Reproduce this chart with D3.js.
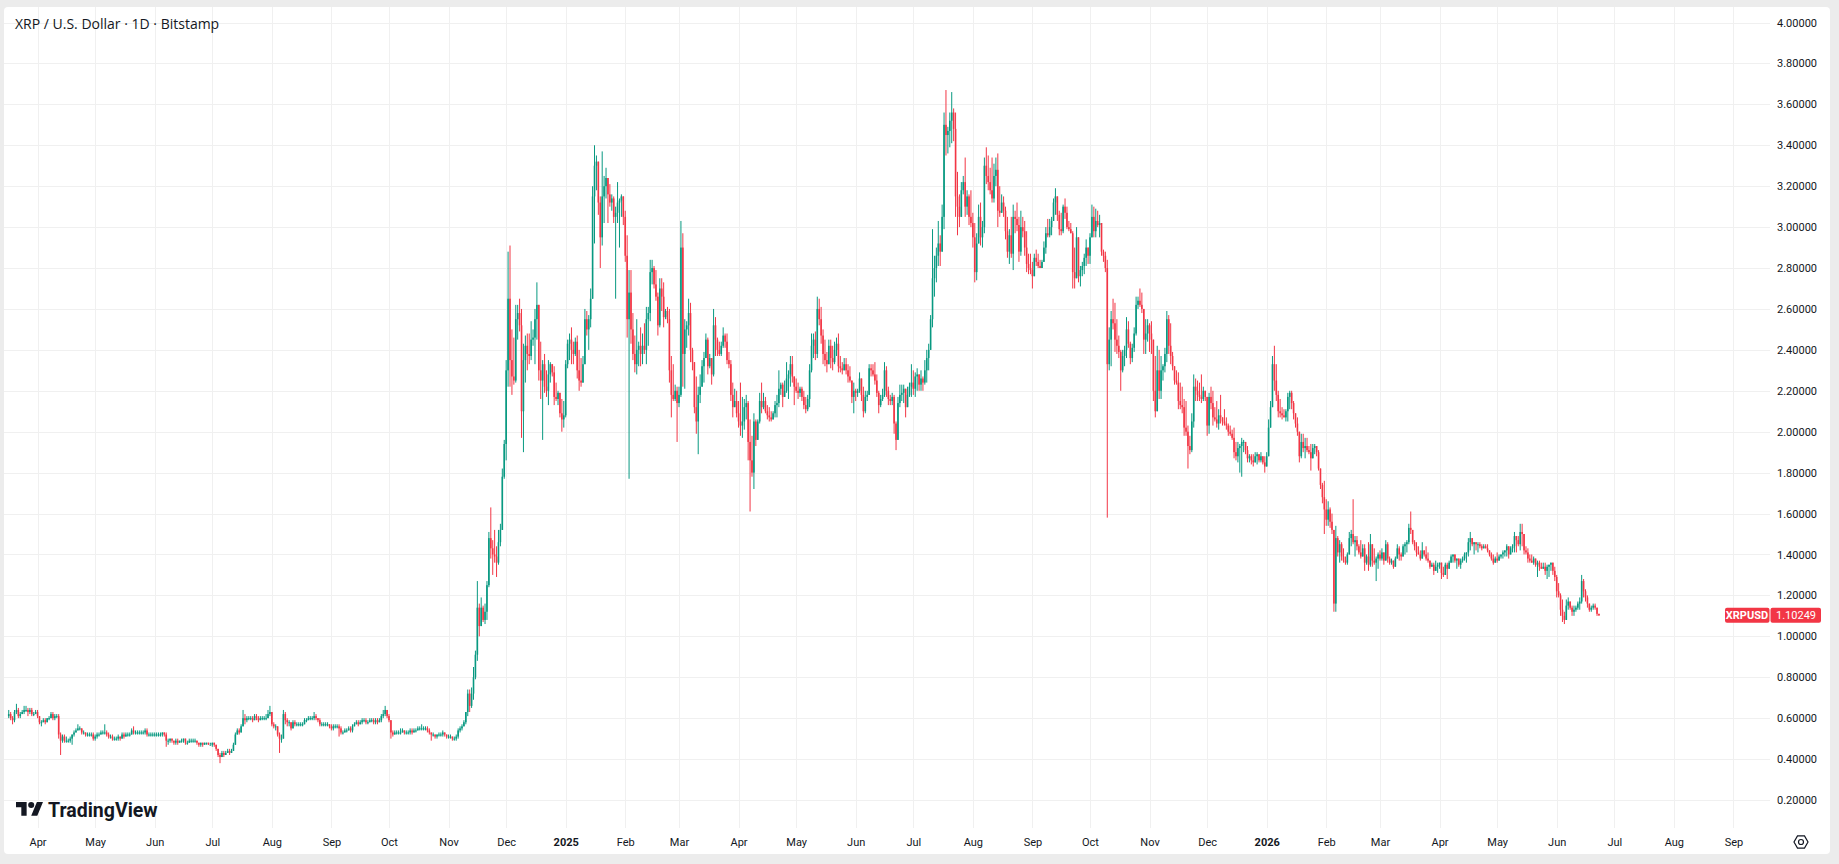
<!DOCTYPE html>
<html>
<head>
<meta charset="utf-8">
<script src="https://d3js.org/d3.v7.min.js"></script>
<style>
  body { margin: 0; background: #ececec; font-family: Roboto, "Liberation Sans", sans-serif; }
  .tick text { fill: #131722; }
</style>
</head>
<body>
<div id="chart"></div>
<script>
// daily candles, XRP/USD 1D Bitstamp, first candle 2024-03-17, open = previous close
const startDay = "2024-03-17";
const firstOpen = 0.61;

const close2024 = [
  .62,.60,.59,.63,.64,.61,.62,.63,.64,.64,.63,.64,.62,.62,.63,
  .61,.58,.58,.59,.58,.60,.60,.62,.60,.61, .61,.52,.49,.51,.49,.49,.49,.50,.52,.53, .54,.55,.55,.53,.53,.52,.52,.52,.52,.50,
  .51,.52,.52,.53,.53,.53,.52,.51,.51,.50, .50,.50,.51,.50,.52,.51,.52,.52,.52,.54, .53,.53,.53,.53,.53,.53,.54,.52,.52,.52, .52,
  .52,.52,.52,.52,.53,.52,.49,.49,.50,.49, .48,.49,.48,.49,.49,.50,.48,.48,.49,.49, .49,.49,.48,.47,.48,.47,.48,.48,.47,.47,
  .48,.47,.45,.42,.41,.43,.42,.43,.44,.43, .44,.47,.52,.54,.53,.56,.60,.59,.60,.60, .60,.59,.61,.60,.59,.60,.60,.60,.60,.62, .63,
  .57,.56,.56,.52,.50,.50,.62,.59,.58,.58, .55,.58,.57,.57,.57,.57,.57,.59,.59,.60, .60,.60,.61,.60,.59,.57,.57,.57,.57,.57, .56,
  .55,.56,.56,.56,.55,.53,.53,.54,.54,.55, .54,.56,.57,.58,.57,.58,.59,.59,.58,.58, .59,.59,.58,.59,.58,.59,.61,.62,.64,.61,
  .59,.53,.52,.53,.53,.53,.53,.54,.53,.53, .53,.54,.53,.54,.54,.55,.55,.55,.55,.55, .54,.53,.52,.52,.51,.52,.52,.52,.53,.52, .51,
  .51,.51,.50,.50,.51,.54,.55,.56,.58,.63, .72,.66,.72,.80,.91,1.14,1.05,1.14,1.08,1.12, 1.25,1.48,1.43,1.40,1.39,1.36,1.46,1.52,1.78,1.94,
  2.30,2.65,2.35,2.27,2.25,2.55,2.58,2.52,2.10,2.35, 2.42,2.38,2.37,2.45,2.46,2.55,2.62,2.30,2.25,2.33, 2.22,2.20,2.28,2.33,2.29,2.17,2.16,2.19,2.09,2.06, 2.08
];
const high2024 = [
  .64,.63,.61,.64,.67,.65,.63,.64,.66,.66,.65,.65,.65,.63,.64,
  .64,.61,.59,.60,.60,.60,.61,.63,.63,.62, .62,.62,.53,.52,.52,.51,.50,.51,.52,.54, .55,.57,.56,.55,.54,.53,.53,.53,.53,.53,
  .52,.53,.53,.54,.54,.57,.54,.53,.52,.52, .51,.51,.52,.51,.53,.53,.53,.53,.53,.55, .56,.54,.54,.54,.54,.54,.55,.55,.53,.53, .53,
  .53,.53,.53,.53,.53,.53,.53,.50,.50,.50, .49,.50,.50,.49,.50,.50,.50,.49,.50,.50, .50,.50,.49,.48,.48,.48,.48,.48,.48,.48,
  .48,.48,.47,.45,.43,.44,.44,.44,.45,.45, .45,.48,.53,.55,.55,.57,.64,.62,.61,.61, .61,.61,.62,.62,.61,.61,.61,.61,.62,.64, .66,
  .63,.58,.57,.56,.53,.52,.64,.63,.60,.59, .58,.59,.59,.58,.58,.58,.58,.60,.60,.61, .61,.61,.63,.62,.60,.60,.58,.58,.58,.58, .57,
  .57,.57,.57,.57,.57,.56,.54,.55,.55,.56, .56,.57,.58,.59,.59,.59,.60,.60,.60,.59, .60,.60,.60,.60,.60,.60,.62,.64,.66,.64,
  .62,.59,.54,.54,.54,.54,.55,.55,.54,.54, .54,.55,.55,.55,.55,.56,.56,.57,.56,.56, .56,.55,.53,.53,.52,.52,.53,.53,.54,.53, .52,
  .52,.52,.51,.51,.52,.55,.56,.57,.59,.63, .74,.74,.75,.85,.93,1.27,1.16,1.19,1.15,1.16, 1.27,1.51,1.63,1.47,1.52,1.44,1.52,1.55,1.82,1.96,
  2.35,2.88,2.91,2.50,2.46,2.62,2.62,2.65,2.60,2.43, 2.47,2.48,2.48,2.54,2.50,2.60,2.73,2.62,2.44,2.35, 2.38,2.30,2.35,2.34,2.33,2.32,2.24,2.20,2.19,2.16, 2.15
];
const low2024 = [
  .60,.59,.57,.58,.62,.60,.60,.62,.62,.63,.61,.62,.61,.61,.62,
  .60,.57,.56,.58,.57,.58,.59,.60,.59,.59, .60,.50,.42,.48,.48,.48,.48,.48,.47,.51, .53,.54,.54,.52,.52,.51,.51,.51,.51,.49,
  .49,.50,.51,.52,.52,.52,.51,.50,.50,.49, .49,.49,.49,.49,.50,.50,.51,.51,.51,.52, .52,.52,.52,.52,.52,.52,.52,.51,.51,.51, .51,
  .51,.51,.51,.51,.51,.51,.46,.47,.48,.48, .47,.47,.47,.48,.48,.48,.47,.47,.48,.48, .48,.48,.47,.46,.46,.46,.47,.47,.47,.47,
  .46,.46,.44,.41,.38,.41,.41,.42,.43,.42, .43,.44,.47,.52,.52,.53,.56,.57,.58,.59, .59,.58,.59,.59,.58,.59,.59,.59,.59,.60, .61,
  .56,.55,.54,.51,.43,.48,.50,.57,.56,.56, .54,.55,.56,.56,.56,.56,.56,.57,.58,.59, .59,.59,.59,.59,.58,.56,.56,.56,.56,.56, .55,
  .54,.54,.55,.55,.51,.52,.52,.53,.53,.54, .53,.53,.56,.57,.56,.57,.57,.58,.57,.57, .58,.58,.57,.57,.57,.58,.58,.60,.61,.60,
  .58,.50,.51,.52,.52,.52,.52,.53,.52,.52, .52,.52,.52,.53,.53,.54,.54,.54,.54,.54, .53,.52,.49,.51,.50,.50,.51,.51,.51,.51, .50,
  .50,.50,.49,.49,.49,.50,.53,.54,.56,.57, .61,.63,.65,.69,.79,.88,1.00,1.05,1.07,1.06, 1.08,1.24,1.38,1.30,1.36,1.29,1.35,1.44,1.52,1.77,
  1.86,2.22,2.22,2.18,2.23,2.24,2.45,2.49,1.97,1.90, 2.24,2.30,2.33,2.35,2.42,2.33,2.45,2.25,2.16,1.96, 2.19,2.17,2.13,2.24,2.27,2.13,2.15,2.13,2.07,2.00, 2.02
];

const close2025 = [
  2.33,2.43,2.45,2.40,2.38,2.44,2.30,2.25,2.24,2.33, 2.55,2.50,2.55,2.65,3.15,3.30,3.32,3.12,2.95,3.15, 3.20,3.24,3.16,3.12,3.14,3.05,3.07,3.12,3.13,3.15, 3.05,
  2.86,2.55,2.68,2.50,2.38,2.33,2.40,2.42,2.38,2.42, 2.40,2.55,2.58,2.78,2.80,2.72,2.66,2.52,2.70,2.66, 2.56,2.59,2.55,2.30,2.18,2.16,2.20,2.14,
  2.18,2.90,2.38,2.50,2.52,2.58,2.40,2.34,2.12,2.05, 2.18,2.22,2.32,2.36,2.45,2.32,2.36,2.28,2.52,2.45, 2.40,2.38,2.42,2.47,2.44,2.35,2.33,2.18,2.12,2.15, 2.09,
  2.05,2.03,2.05,2.12,2.14,1.95,1.86,1.80,2.05,1.96, 2.05,2.15,2.12,2.15,2.10,2.08,2.07,2.06,2.09,2.13, 2.14,2.21,2.23,2.17,2.20,2.26,2.28,2.33,2.27,2.22,
  2.20,2.19,2.21,2.17,2.13,2.11,2.16,2.30,2.42,2.45, 2.38,2.60,2.55,2.47,2.38,2.35,2.33,2.42,2.36,2.34, 2.40,2.43,2.32,2.31,2.30,2.33,2.30,2.27,2.25,2.17, 2.20,
  2.19,2.20,2.26,2.18,2.10,2.17,2.18,2.31,2.30,2.28, 2.25,2.19,2.13,2.16,2.18,2.30,2.20,2.16,2.15,2.17, 2.04,1.96,2.14,2.18,2.19,2.21,2.12,2.18,2.22,2.24,
  2.21,2.27,2.28,2.23,2.26,2.24,2.30,2.36,2.40,2.55, 2.75,2.80,2.86,2.92,2.88,3.05,3.50,3.45,3.47,3.52, 3.56,3.48,3.15,3.10,3.05,3.18,3.22,3.10,3.15,3.05, 3.02,
  2.95,2.78,2.92,3.05,2.95,3.00,3.30,3.25,3.22,3.18, 3.14,3.25,3.28,3.08,3.07,3.12,3.08,2.98,2.88,2.96, 2.87,3.05,3.04,3.01,2.88,3.00,2.98,2.90,2.82,2.80, 2.79,
  2.76,2.85,2.83,2.81,2.80,2.83,2.90,2.97,2.96,3.00, 3.03,3.12,3.15,3.06,2.99,2.98,3.10,3.07,3.00,2.99, 2.97,2.78,2.75,2.95,2.76,2.79,2.81,2.85,2.90,2.86,
  2.95,3.05,2.98,3.03,3.01,3.02,2.88,2.86,2.80,2.33, 2.45,2.55,2.53,2.45,2.42,2.39,2.30,2.37,2.40,2.50, 2.43,2.36,2.41,2.48,2.62,2.64,2.62,2.60,2.45,2.48, 2.52,
  2.48,2.45,2.20,2.10,2.30,2.20,2.30,2.32,2.38,2.55, 2.42,2.37,2.32,2.25,2.24,2.15,2.13,2.12,2.02,2.00, 1.93,1.91,2.05,2.22,2.20,2.18,2.17,2.16,2.20,2.17,
  2.03,2.17,2.14,2.07,2.06,2.04,2.08,2.07,2.05,2.04, 2.03,2.00,1.99,1.97,1.90,1.88,1.92,1.93,1.95,1.95, 1.91,1.87,1.88,1.86,1.85,1.88,1.89,1.86,1.88,1.85, 1.83
];
const high2025 = [
  2.35,2.45,2.48,2.51,2.44,2.46,2.47,2.40,2.36,2.37, 2.60,2.59,2.57,2.70,3.20,3.40,3.35,3.31,3.15,3.37, 3.25,3.29,3.21,3.21,3.16,3.15,3.10,3.22,3.14,3.16, 3.14,
  3.08,2.96,2.79,2.79,2.58,2.47,2.55,2.44,2.51,2.48, 2.53,2.61,2.61,2.84,2.84,2.81,2.79,2.68,2.75,2.75, 2.73,2.60,2.61,2.60,2.37,2.33,2.23,2.22,
  2.22,3.03,2.97,2.55,2.54,2.65,2.63,2.41,2.34,2.27, 2.22,2.28,2.35,2.39,2.48,2.46,2.38,2.36,2.60,2.56, 2.46,2.44,2.44,2.51,2.48,2.48,2.39,2.35,2.24,2.21, 2.20,
  2.15,2.24,2.17,2.16,2.18,2.15,2.06,1.98,2.09,2.06, 2.06,2.19,2.24,2.19,2.17,2.13,2.12,2.10,2.10,2.15, 2.18,2.30,2.24,2.24,2.25,2.34,2.30,2.37,2.37,2.26,
  2.26,2.24,2.22,2.22,2.20,2.17,2.18,2.33,2.48,2.48, 2.49,2.66,2.65,2.61,2.50,2.45,2.39,2.45,2.45,2.42, 2.44,2.46,2.48,2.37,2.34,2.36,2.36,2.33,2.32,2.25, 2.24,
  2.21,2.21,2.29,2.26,2.22,2.20,2.20,2.33,2.33,2.33, 2.34,2.28,2.20,2.18,2.21,2.34,2.32,2.22,2.18,2.19, 2.18,2.05,2.17,2.23,2.23,2.23,2.19,2.22,2.24,2.33,
  2.30,2.29,2.31,2.28,2.30,2.27,2.35,2.40,2.43,2.57, 2.99,2.86,2.90,3.03,2.96,3.11,3.56,3.67,3.49,3.56, 3.66,3.58,3.56,3.27,3.16,3.22,3.25,3.34,3.18,3.16, 3.18,
  3.07,3.02,2.97,3.11,3.12,3.03,3.34,3.39,3.35,3.29, 3.34,3.31,3.34,3.36,3.20,3.16,3.15,3.10,3.05,2.99, 3.05,3.11,3.08,3.12,3.05,3.08,3.05,3.03,2.98,2.87, 2.87,
  2.83,2.87,2.89,2.87,2.84,2.84,2.93,3.00,3.04,3.04, 3.05,3.14,3.19,3.14,3.08,3.07,3.11,3.14,3.10,3.03, 3.02,2.98,2.90,3.00,2.95,2.81,2.83,2.87,2.94,2.90,
  2.97,3.11,3.10,3.09,3.08,3.06,3.02,2.89,2.88,2.84, 2.51,2.59,2.65,2.63,2.55,2.47,2.40,2.40,2.42,2.56, 2.54,2.44,2.43,2.51,2.66,2.66,2.70,2.68,2.59,2.55, 2.55,
  2.53,2.54,2.45,2.37,2.42,2.40,2.37,2.33,2.41,2.59, 2.57,2.53,2.39,2.32,2.30,2.29,2.24,2.22,2.16,2.15, 2.03,1.98,2.09,2.28,2.26,2.25,2.24,2.28,2.22,2.20,
  2.17,2.19,2.22,2.20,2.12,2.15,2.11,2.18,2.07,2.11, 2.07,2.04,2.03,2.01,2.02,1.95,1.95,1.94,1.97,1.96, 1.95,1.93,1.89,1.89,1.89,1.90,1.90,1.89,1.90,1.87, 1.88
];
const low2025 = [
  2.07,2.31,2.35,2.33,2.33,2.37,2.26,2.20,2.22,2.25, 2.33,2.47,2.40,2.51,2.65,2.92,3.18,3.06,2.80,2.91, 3.02,3.14,3.02,3.10,3.08,3.02,2.65,3.02,2.90,3.05, 3.01,
  2.83,2.46,1.77,2.43,2.35,2.29,2.28,2.32,2.32,2.33, 2.38,2.33,2.42,2.54,2.72,2.70,2.64,2.47,2.51,2.59, 2.51,2.55,2.53,2.24,2.07,2.15,2.15,1.95,
  2.12,2.17,2.22,2.21,2.41,2.47,2.34,2.30,2.09,1.99, 1.89,2.14,2.22,2.24,2.36,2.28,2.31,2.23,2.27,2.37, 2.37,2.37,2.37,2.41,2.41,2.33,2.31,2.15,2.07,2.12, 2.07,
  2.02,1.98,1.97,2.01,2.06,1.86,1.61,1.78,1.72,1.93, 1.96,2.04,2.09,2.11,2.09,2.06,2.05,2.05,2.06,2.07, 2.07,2.12,2.18,2.12,2.17,2.19,2.16,2.22,2.24,2.13,
  2.19,2.16,2.17,2.15,2.11,2.09,2.10,2.12,2.29,2.36, 2.35,2.36,2.52,2.43,2.33,2.32,2.29,2.33,2.31,2.30, 2.33,2.37,2.29,2.29,2.28,2.30,2.28,2.24,2.24,2.14, 2.09,
  2.15,2.17,2.19,2.15,2.07,2.09,2.15,2.18,2.27,2.27, 2.23,2.17,2.09,2.12,2.15,2.17,2.17,2.13,2.13,2.13, 1.99,1.91,1.96,2.12,2.15,2.14,2.07,2.12,2.17,2.17,
  2.18,2.17,2.20,2.20,2.20,2.20,2.23,2.24,2.30,2.40, 2.51,2.66,2.73,2.81,2.81,2.88,2.99,3.35,3.36,3.39, 3.41,3.42,3.05,2.96,3.00,3.08,3.16,3.05,3.06,3.01, 3.00,
  2.90,2.73,2.74,2.92,2.91,2.90,2.97,3.21,3.18,3.16, 3.12,3.12,3.20,3.00,3.05,3.07,3.05,2.94,2.85,2.82, 2.85,2.79,2.97,2.98,2.83,2.86,2.95,2.86,2.78,2.77, 2.77,
  2.70,2.78,2.81,2.80,2.80,2.81,2.83,2.87,2.95,2.95, 2.96,3.03,3.06,3.03,2.96,2.96,2.97,3.04,2.99,2.98, 2.97,2.70,2.70,2.79,2.73,2.71,2.76,2.77,2.81,2.82,
  2.82,2.95,2.95,2.95,3.00,2.95,2.86,2.83,2.78,1.58, 2.30,2.32,2.50,2.39,2.38,2.36,2.20,2.29,2.32,2.36, 2.41,2.33,2.34,2.39,2.47,2.60,2.61,2.58,2.38,2.38, 2.44,
  2.39,2.38,2.15,2.07,2.11,2.16,2.16,2.25,2.29,2.34, 2.38,2.33,2.30,2.23,2.23,2.11,2.11,2.09,1.98,1.98, 1.82,1.89,1.90,2.02,2.15,2.15,2.15,2.14,2.15,2.15,
  1.98,1.99,2.11,2.03,2.05,2.02,2.01,2.04,2.03,2.03, 2.01,1.98,1.98,1.96,1.87,1.86,1.85,1.80,1.78,1.90, 1.89,1.85,1.85,1.84,1.83,1.85,1.84,1.85,1.85,1.84, 1.80
];

const close2026 = [
  1.88,2.02,2.12,2.33,2.25,2.18,2.10,2.09,2.08,2.07, 2.10,2.17,2.19,2.14,2.09,2.04,2.00,1.88,1.95,1.92, 1.93,1.91,1.90,1.87,1.92,1.93,1.90,1.82,1.74,1.68, 1.62,
  1.57,1.62,1.56,1.52,1.16,1.48,1.41,1.45,1.39,1.37, 1.36,1.40,1.48,1.50,1.46,1.47,1.44,1.41,1.39,1.43, 1.36,1.39,1.35,1.45,1.37,1.36,1.38,1.40,
  1.38,1.41,1.37,1.45,1.38,1.36,1.37,1.34,1.38,1.43, 1.40,1.39,1.44,1.45,1.46,1.53,1.52,1.46,1.44,1.41, 1.40,1.38,1.42,1.40,1.38,1.37,1.34,1.35,1.32,1.34, 1.35,
  1.36,1.31,1.30,1.35,1.33,1.36,1.39,1.40,1.37,1.38, 1.35,1.37,1.38,1.40,1.41,1.46,1.48,1.45,1.46,1.45, 1.45,1.44,1.43,1.44,1.43,1.42,1.40,1.38,1.36,1.38,
  1.37,1.39,1.40,1.41,1.42,1.44,1.40,1.43,1.44,1.49, 1.47,1.45,1.51,1.50,1.42,1.41,1.38,1.37,1.36,1.38, 1.35,1.36,1.34,1.33,1.34,1.32,1.34,1.35,1.36,1.32, 1.29,
  1.22,1.20,1.13,1.10,1.08,1.15,1.17,1.14,1.12,1.13, 1.14,1.16,1.17,1.27,1.22,1.19,1.16,1.13,1.14,1.15, 1.14,1.11,1.10249
];
const high2026 = [
  1.90,2.06,2.15,2.37,2.42,2.33,2.20,2.16,2.12,2.11, 2.11,2.19,2.20,2.20,2.15,2.09,2.07,1.99,1.99,1.99, 1.97,1.97,1.93,1.94,1.94,1.94,1.93,1.91,1.82,1.75, 1.76,
  1.67,1.66,1.63,1.60,1.52,1.54,1.49,1.47,1.46,1.43, 1.39,1.41,1.51,1.52,1.67,1.49,1.49,1.45,1.47,1.45, 1.45,1.40,1.46,1.50,1.45,1.43,1.39,1.41,
  1.42,1.43,1.40,1.47,1.46,1.39,1.38,1.37,1.39,1.45, 1.44,1.41,1.45,1.46,1.47,1.55,1.61,1.52,1.47,1.46, 1.44,1.42,1.46,1.42,1.44,1.41,1.37,1.36,1.36,1.37, 1.36,
  1.36,1.36,1.34,1.36,1.36,1.37,1.40,1.40,1.40,1.38, 1.38,1.38,1.39,1.41,1.41,1.48,1.51,1.48,1.46,1.46, 1.46,1.46,1.45,1.45,1.45,1.45,1.42,1.41,1.40,1.39,
  1.41,1.40,1.40,1.42,1.42,1.45,1.44,1.44,1.45,1.51, 1.49,1.49,1.55,1.55,1.50,1.44,1.43,1.40,1.40,1.39, 1.38,1.37,1.37,1.36,1.36,1.36,1.35,1.35,1.36,1.36, 1.34,
  1.30,1.26,1.21,1.18,1.12,1.18,1.19,1.17,1.15,1.15, 1.15,1.17,1.19,1.30,1.28,1.23,1.20,1.16,1.15,1.16, 1.16,1.14,1.11
];
const low2026 = [
  1.83,1.88,2.03,2.12,2.20,2.15,2.07,2.07,2.06,2.07, 2.05,2.05,2.11,2.11,2.06,2.02,1.98,1.85,1.87,1.90, 1.87,1.90,1.89,1.81,1.88,1.89,1.88,1.81,1.72,1.65, 1.50,
  1.54,1.54,1.53,1.50,1.12,1.12,1.39,1.36,1.37,1.36, 1.35,1.35,1.40,1.44,1.45,1.39,1.42,1.40,1.38,1.42, 1.32,1.35,1.32,1.34,1.34,1.35,1.27,1.33,
  1.37,1.37,1.35,1.37,1.36,1.35,1.35,1.33,1.34,1.38, 1.37,1.37,1.39,1.40,1.41,1.45,1.50,1.45,1.42,1.39, 1.40,1.37,1.38,1.39,1.37,1.36,1.33,1.34,1.30,1.32, 1.31,
  1.33,1.28,1.29,1.30,1.28,1.33,1.36,1.36,1.36,1.33, 1.34,1.33,1.36,1.37,1.36,1.39,1.42,1.44,1.40,1.42, 1.41,1.43,1.42,1.43,1.43,1.41,1.39,1.37,1.35,1.36,
  1.36,1.37,1.38,1.38,1.39,1.39,1.38,1.40,1.41,1.41, 1.41,1.44,1.42,1.44,1.40,1.40,1.36,1.36,1.36,1.35, 1.34,1.29,1.32,1.33,1.33,1.30,1.28,1.29,1.32,1.30, 1.27,
  1.19,1.19,1.10,1.07,1.06,1.08,1.13,1.13,1.10,1.10, 1.12,1.13,1.13,1.16,1.19,1.17,1.14,1.12,1.12,1.13, 1.13,1.10,1.10
];

const priceTicks = [0.2,0.4,0.6,0.8,1.0,1.2,1.4,1.6,1.8,2.0,2.2,2.4,2.6,2.8,3.0,3.2,3.4,3.6,3.8,4.0];
const timeLabels = ["Apr","May","Jun","Jul","Aug","Sep","Oct","Nov","Dec","2025",
  "Feb","Mar","Apr","May","Jun","Jul","Aug","Sep","Oct","Nov","Dec","2026",
  "Feb","Mar","Apr","May","Jun","Jul","Aug","Sep"];
const lastPrice = 1.10249;
const symbol = "XRPUSD";
const title = "XRP / U.S. Dollar \u00b7 1D \u00b7 Bitstamp";

const W = 1839, H = 864;
const plot = {left: 4, right: 1770, top: 7, bottom: 828};
const up = "#089981", down = "#f23645";

const svg = d3.select("#chart").append("svg")
    .attr("width", W)
    .attr("height", H);

svg.append("rect").attr("width", W).attr("height", H).attr("fill", "#ececec");
svg.append("rect")
    .attr("x", 4).attr("y", 7)
    .attr("width", 1826).attr("height", 847)
    .attr("rx", 4)
    .attr("fill", "#ffffff");

const x = d3.scaleUtc()
  .domain([new Date(Date.UTC(2025, 0, 1)), new Date(Date.UTC(2026, 0, 1))])
  .range([565.7, 1266.7]);
const y = d3.scaleLinear()
  .domain([0.2, 4.0])
  .range([800, 22.5]);

const monthTicks = d3.utcMonth.range(new Date(Date.UTC(2024, 3, 1)), new Date(Date.UTC(2026, 9, 1)));

// grid
svg.append("g").selectAll("line")
  .data(priceTicks)
  .join("line")
    .attr("x1", plot.left).attr("x2", plot.right)
    .attr("y1", d => Math.round(y(d)) + 0.5)
    .attr("y2", d => Math.round(y(d)) + 0.5)
    .attr("stroke", "#f0f0f0");
svg.append("g").selectAll("line")
  .data(monthTicks)
  .join("line")
    .attr("x1", d => Math.round(x(d)) + 0.5)
    .attr("x2", d => Math.round(x(d)) + 0.5)
    .attr("y1", plot.top).attr("y2", plot.bottom)
    .attr("stroke", "#f0f0f0");

// candles
const closes = close2024.concat(close2025, close2026);
const highs = high2024.concat(high2025, high2026);
const lows = low2024.concat(low2025, low2026);
const t0 = d3.utcParse("%Y-%m-%d")(startDay);
const candles = closes.map((c, i) => {
  const o = i ? closes[i - 1] : firstOpen;
  return {
    date: d3.utcDay.offset(t0, i),
    o: o, c: c,
    h: Math.max(highs[i] ?? c, o, c),
    l: Math.min(lows[i] ?? c, o, c)
  };
});

svg.append("clipPath").attr("id", "clip")
  .append("rect")
    .attr("x", plot.left).attr("y", plot.top)
    .attr("width", plot.right - plot.left).attr("height", plot.bottom - plot.top);

const cg = svg.append("g").attr("clip-path", "url(#clip)");
cg.selectAll("line.wick")
  .data(candles)
  .join("line")
    .attr("class", "wick")
    .attr("x1", d => x(d.date))
    .attr("x2", d => x(d.date))
    .attr("y1", d => y(d.h))
    .attr("y2", d => y(d.l))
    .attr("stroke", d => d.c >= d.o ? up : down)
    .attr("stroke-width", 1);
cg.selectAll("rect.body")
  .data(candles)
  .join("rect")
    .attr("class", "body")
    .attr("x", d => x(d.date) - 0.8)
    .attr("width", 1.6)
    .attr("y", d => y(Math.max(d.o, d.c)))
    .attr("height", d => Math.max(1, Math.abs(y(d.o) - y(d.c))))
    .attr("fill", d => d.c >= d.o ? up : down);

// price scale
const yAxis = svg.append("g")
  .attr("transform", `translate(${plot.right}, 0)`)
  .call(d3.axisRight(y).tickValues(priceTicks).tickFormat(d3.format(".5f")).tickSize(0).tickPadding(7));
yAxis.select(".domain").remove();
yAxis.selectAll("text").style("font-size", "11px").style("font-family", "Roboto, sans-serif");

// time scale
const xAxis = svg.append("g")
  .attr("transform", `translate(0, ${plot.bottom})`)
  .call(d3.axisBottom(x).tickValues(monthTicks).tickFormat((d, i) => timeLabels[i]).tickSize(0).tickPadding(10));
xAxis.select(".domain").remove();
xAxis.selectAll("text")
  .style("font-size", "11px")
  .style("font-family", "Roboto, sans-serif")
  .style("font-weight", (d, i) => /^\d{4}$/.test(timeLabels[i]) ? "700" : "400");

// title
svg.append("text")
  .attr("x", 15).attr("y", 29)
  .attr("fill", "#131722")
  .style("font-size", "14px")
  .style("font-family", "'Open Sans', sans-serif")
  .text(title);

// last price label
const py = y(lastPrice);
svg.append("rect")
  .attr("x", 1725).attr("y", py - 7.5)
  .attr("width", 44.5).attr("height", 15).attr("rx", 2)
  .attr("fill", down);
svg.append("rect")
  .attr("x", 1770.5).attr("y", py - 7.5)
  .attr("width", 50.5).attr("height", 15).attr("rx", 2)
  .attr("fill", down);
svg.append("text")
  .attr("x", 1747).attr("y", py + 4)
  .attr("text-anchor", "middle")
  .attr("fill", "#fff")
  .style("font-size", "11px").style("font-weight", "700")
  .text(symbol);
svg.append("text")
  .attr("x", 1796).attr("y", py + 4)
  .attr("text-anchor", "middle")
  .attr("fill", "#fff")
  .style("font-size", "11px")
  .text(d3.format(".5f")(lastPrice));

// TradingView logo
const logo = svg.append("g").attr("transform", "translate(16, 799) scale(0.76)");
logo.append("path")
  .attr("d", "M14 22H7V11H0V4h14v18zM28 22h-8l7.5-18h8L28 22z")
  .attr("fill", "#131722");
logo.append("circle").attr("cx", 20).attr("cy", 8).attr("r", 4).attr("fill", "#131722");
svg.append("text")
  .attr("x", 48).attr("y", 817)
  .attr("fill", "#131722")
  .style("font-size", "19.5px").style("font-weight", "700")
  .style("font-family", "Roboto, sans-serif")
  .text("TradingView");

// settings icon
const hex = d3.range(6).map(k => {
  const a = Math.PI / 3 * k;
  return [1801 + 7 * Math.cos(a), 842 + 7 * Math.sin(a)];
});
svg.append("path")
  .attr("d", d3.line()(hex) + "Z")
  .attr("fill", "none").attr("stroke", "#131722").attr("stroke-width", 1.2);
svg.append("circle").attr("cx", 1801).attr("cy", 842).attr("r", 2.5)
  .attr("fill", "none").attr("stroke", "#131722").attr("stroke-width", 1.2);
</script>
</body>
</html>
